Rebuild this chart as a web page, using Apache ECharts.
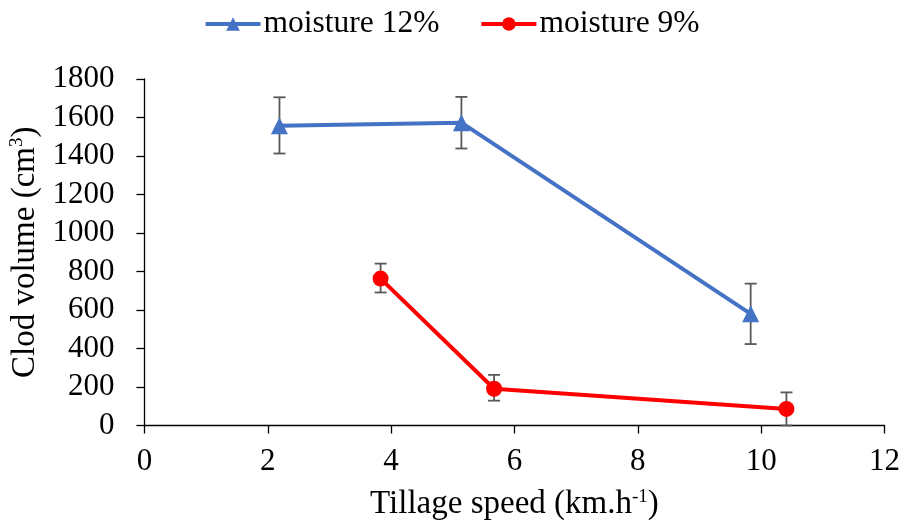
<!DOCTYPE html>
<html><head><meta charset="utf-8">
<script src="https://cdn.jsdelivr.net/npm/echarts@6/dist/echarts.min.js"></script>
<style>html,body{margin:0;padding:0;background:#fff}#c{width:903px;height:526px}</style>
</head><body><div id="c"></div>
<script>
const speed12 = [2.19, 5.14, 9.83];
const volume12 = [1557, 1573, 580];
const errLow12 = [1413, 1439, 423];
const errHigh12 = [1705, 1707, 737];

const speed9 = [3.83, 5.67, 10.41];
const volume9 = [763, 191, 86];
const errLow9 = [691, 129, 0];
const errHigh9 = [841, 263, 172];

const xTicks = [0, 2, 4, 6, 8, 10, 12];
const yTicks = [0, 200, 400, 600, 800, 1000, 1200, 1400, 1600, 1800];

const font = 'Liberation Serif';
const chart = echarts.init(document.getElementById('c'));

function errSeries(xs, lo, hi) {
  return {
    type: 'custom',
    silent: true,
    z: 1,
    data: xs.map((x, i) => [x, lo[i], hi[i]]),
    renderItem: function (params, api) {
      const p1 = api.coord([api.value(0), api.value(1)]);
      const p2 = api.coord([api.value(0), api.value(2)]);
      const w = 6;
      const st = { stroke: '#595959', lineWidth: 1.8 };
      return {
        type: 'group',
        children: [
          { type: 'line', shape: { x1: p1[0], y1: p1[1], x2: p2[0], y2: p2[1] }, style: st },
          { type: 'line', shape: { x1: p1[0] - w, y1: p1[1], x2: p1[0] + w, y2: p1[1] }, style: st },
          { type: 'line', shape: { x1: p2[0] - w, y1: p2[1], x2: p2[0] + w, y2: p2[1] }, style: st }
        ]
      };
    }
  };
}

const supStyle = { fontSize: 19, verticalAlign: 'top', padding: [0, 0, 15, 0], fontFamily: font, color: '#000' };

chart.setOption({
  animation: false,
  textStyle: { fontFamily: font },
  legend: {
    top: 3,
    left: 'center',
    itemWidth: 55,
    itemHeight: 17,
    itemGap: 40,
    lineStyle: { width: 4 },
    textStyle: { fontFamily: font, fontSize: 31.5, color: '#000', padding: [0, 0, 0, -2] },
    data: ['moisture 12%', 'moisture 9%']
  },
  grid: { left: 142, right: 17, top: 79, bottom: 98, containLabel: false },
  xAxis: {
    type: 'value', min: 0, max: 12, interval: 2,
    name: 'Tillage speed (km.h{s|-1})',
    nameLocation: 'middle', nameGap: 62,
    nameTextStyle: { fontFamily: font, fontSize: 33, color: '#000', rich: { s: supStyle } },
    axisLine: { lineStyle: { color: '#000', width: 1.3 } },
    axisTick: { show: true, inside: false, length: 8, lineStyle: { color: '#000', width: 1.3 } },
    axisLabel: { fontFamily: font, fontSize: 31, color: '#000', margin: 21, formatter: v => xTicks.includes(v) ? String(v) : '' },
    splitLine: { show: false }
  },
  yAxis: {
    type: 'value', min: 0, max: 1800, interval: 200,
    name: 'Clod volume (cm{s|3})',
    nameLocation: 'middle', nameGap: 101,
    nameTextStyle: { fontFamily: font, fontSize: 33, color: '#000', rich: { s: supStyle } },
    axisLine: { show: true, lineStyle: { color: '#000', width: 1.3 } },
    axisTick: { show: true, inside: false, length: 8, lineStyle: { color: '#000', width: 1.3 } },
    axisLabel: { fontFamily: font, fontSize: 31, color: '#000', margin: 30, formatter: v => yTicks.includes(v) ? String(v) : '' },
    splitLine: { show: false }
  },
  series: [
    errSeries(speed12, errLow12, errHigh12),
    errSeries(speed9, errLow9, errHigh9),
    {
      name: 'moisture 12%', type: 'line', z: 3,
      data: speed12.map((x, i) => [x, volume12[i]]),
      symbol: 'triangle', symbolSize: 17,
      lineStyle: { color: '#4472C4', width: 4 },
      itemStyle: { color: '#4472C4' }
    },
    {
      name: 'moisture 9%', type: 'line', z: 3,
      data: speed9.map((x, i) => [x, volume9[i]]),
      symbol: 'circle', symbolSize: 16,
      lineStyle: { color: '#FF0000', width: 4 },
      itemStyle: { color: '#FF0000' }
    }
  ]
});
</script></body></html>
